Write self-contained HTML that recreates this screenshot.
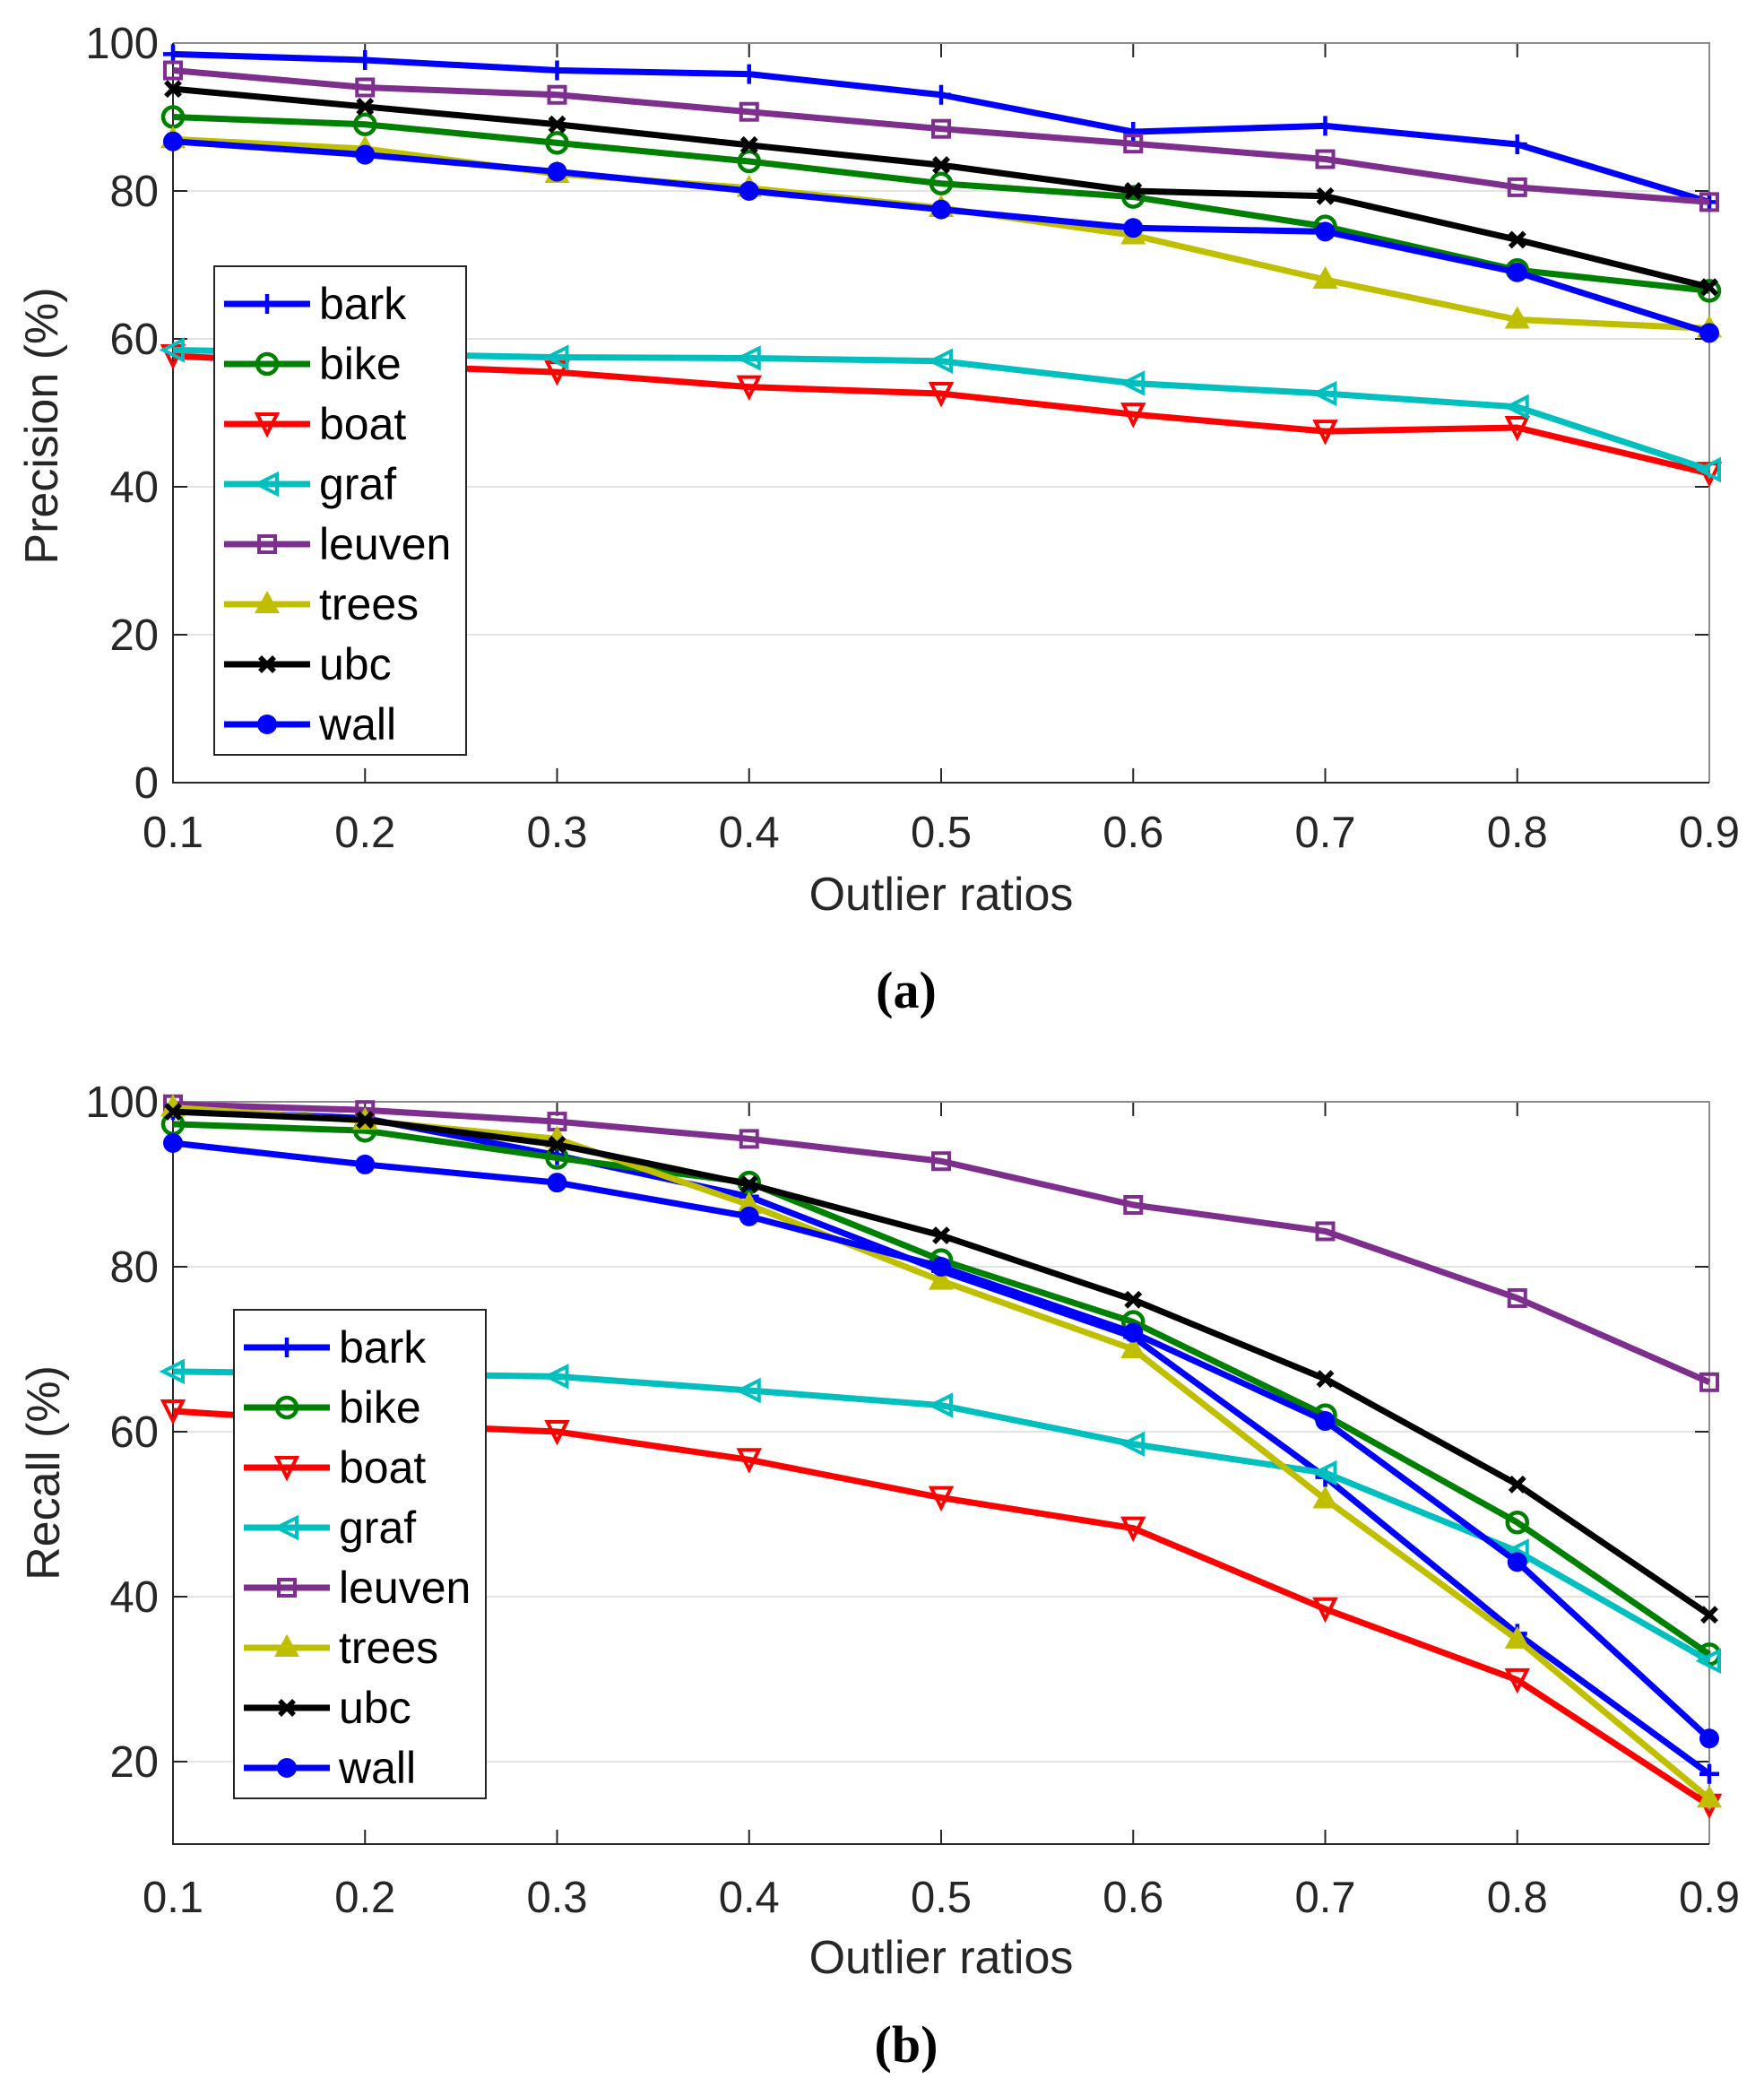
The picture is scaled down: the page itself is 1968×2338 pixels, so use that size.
<!DOCTYPE html>
<html><head><meta charset="utf-8">
<style>
html,body{margin:0;padding:0;background:#fff;}
svg{display:block;font-family:"Liberation Sans",Arial,sans-serif;}
</style></head>
<body>
<svg id="fig" width="1968" height="2338" viewBox="0 0 1968 2338" xmlns="http://www.w3.org/2000/svg"></svg>
<script>
const xCategories = [0.1,0.2,0.3,0.4,0.5,0.6,0.7,0.8,0.9];
const xTickLabels = ["0.1","0.2","0.3","0.4","0.5","0.6","0.7","0.8","0.9"];
const seriesNames = ["bark","bike","boat","graf","leuven","trees","ubc","wall"];
const precisionYTicks = [0,20,40,60,80,100];
const recallYTicks = [20,40,60,80,100];

const precBark   = [98.5,97.7,96.3,95.8,93.0,88.0,88.8,86.3,78.5];
const precBike   = [90.0,89.0,86.5,84.0,81.0,79.2,75.2,69.3,66.5];
const precBoat   = [57.7,56.5,55.5,53.5,52.6,49.8,47.5,48.0,41.8];
const precGraf   = [58.5,58.0,57.5,57.4,57.0,54.0,52.6,50.8,42.3];
const precLeuven = [96.3,94.0,93.0,90.7,88.4,86.4,84.3,80.5,78.5];
const precTrees  = [87.0,85.7,82.3,80.4,77.7,74.0,68.0,62.6,61.4];
const precUbc    = [93.8,91.4,89.0,86.2,83.5,80.0,79.3,73.4,67.0];
const precWall   = [86.7,84.9,82.6,80.0,77.5,75.0,74.5,69.0,60.8];

const recBark   = [99.0,98.0,93.5,88.5,79.5,71.5,54.5,35.5,18.5];
const recBike   = [97.3,96.5,93.2,90.2,80.8,73.3,62.0,49.0,33.0];
const recBoat   = [62.5,61.0,60.0,56.6,52.0,48.3,38.5,29.9,14.7];
const recGraf   = [67.3,67.0,66.7,65.0,63.2,58.5,55.0,45.5,32.2];
const recLeuven = [99.7,99.0,97.6,95.5,92.8,87.5,84.3,76.2,66.0];
const recTrees  = [99.3,97.7,95.5,87.5,78.3,70.0,51.8,34.8,15.5];
const recUbc    = [98.8,97.8,94.8,90.0,83.8,76.0,66.4,53.6,37.8];
const recWall   = [95.0,92.4,90.2,86.1,80.0,72.0,61.3,44.2,22.8];

const colors = ["#0000ff","#008000","#ff0000","#00bfbf","#7e2f8e","#bfbf00","#000000","#0000ff"];
const markers = ["plus","circle","tridown","trileft","square","triup","x","dot"];
const NS="http://www.w3.org/2000/svg";
const svg=document.getElementById('fig');
function mk(tag,attrs,parent){const e=document.createElementNS(NS,tag);for(const k in attrs)e.setAttribute(k,attrs[k]);(parent||svg).appendChild(e);return e;}

function marker(g,type,x,y,c){
  const r=11;let e;
  if(type==="plus"){e=mk('path',{d:`M${x-r} ${y}H${x+r}M${x} ${y-r}V${y+r}`,stroke:c,'stroke-width':4.5,fill:'none'},g);}
  else if(type==="x"){e=mk('path',{d:`M${x-8} ${y-8}L${x+8} ${y+8}M${x-8} ${y+8}L${x+8} ${y-8}`,stroke:c,'stroke-width':5.5,fill:'none'},g);}
  else if(type==="circle"){e=mk('circle',{cx:x,cy:y,r:r,stroke:c,'stroke-width':4.5,fill:'none'},g);}
  else if(type==="dot"){e=mk('circle',{cx:x,cy:y,r:r,fill:c},g);}
  else if(type==="square"){e=mk('rect',{x:x-9,y:y-9,width:18,height:18,stroke:c,'stroke-width':4,fill:'none'},g);}
  else if(type==="tridown"){e=mk('path',{d:`M${x-r} ${y-r}L${x+r} ${y-r}L${x} ${y+r}Z`,stroke:c,'stroke-width':4,fill:'none'},g);}
  else if(type==="trileft"){e=mk('path',{d:`M${x+r} ${y-r}L${x+r} ${y+r}L${x-r} ${y}Z`,stroke:c,'stroke-width':4,fill:'none'},g);}
  else if(type==="triup"){e=mk('path',{d:`M${x-14} ${y+10}L${x+14} ${y+10}L${x} ${y-15}Z`,fill:c},g);}
  
  
}

function chart(cfg){
  const g=mk('g',{});
  
  
  const {L,R,T,B,ymin,ymax}=cfg;
  const xs=v=>L+(v-0.1)/0.8*(R-L);
  const ys=v=>B-(v-ymin)/(ymax-ymin)*(B-T);
  cfg.yTicks.forEach(t=>{
    const y=ys(t);
    if(t!==ymin && t!==ymax){const gl=mk('line',{x1:L,x2:R,y1:y,y2:y,stroke:'#e3e3e3','stroke-width':2},g);}
    const tk=mk('path',{d:`M${L} ${y}h16M${R} ${y}h-16`,stroke:'#262626','stroke-width':2},g);
    
    const tx=mk('text',{x:L-16,y:y+17,'text-anchor':'end','font-size':49,fill:'#262626'},g);tx.textContent=t;
    
  });
  xCategories.forEach((c,i)=>{
    const x=xs(c);
    const tk=mk('path',{d:`M${x} ${B}v-16M${x} ${T}v16`,stroke:'#262626','stroke-width':2},g);
    
    const tx=mk('text',{x:x,y:cfg.xTickY,'text-anchor':'middle','font-size':49,fill:'#262626'},g);tx.textContent=xTickLabels[i];
    
  });
  const fr=mk('path',{d:`M${L} ${T}H${R}V${B}`,stroke:'#8c8c8c','stroke-width':2,fill:'none'},g);
  
  const ax=mk('path',{d:`M${L} ${T}V${B}H${R}`,stroke:'#262626','stroke-width':2,fill:'none'},g);
  
  cfg.series.forEach((d,si)=>{
    const sg=mk('g',{},g);
    
    
    const pts=d.map((v,i)=>xs(xCategories[i])+','+ys(v)).join(' ');
    const pl=mk('polyline',{points:pts,fill:'none',stroke:colors[si],'stroke-width':7,'stroke-linejoin':'round'},sg);
    
    d.forEach((v,i)=>marker(sg,markers[si],xs(xCategories[i]),ys(v),colors[si]));
  });
  const lg=mk('g',{},g);
  
  mk('rect',{x:cfg.lx,y:cfg.ly,width:281,height:545,fill:'#fff',stroke:'#262626','stroke-width':2},lg);
  seriesNames.forEach((n,i)=>{
    const y=cfg.ly+42+i*67;
    const eg=mk('g',{},lg);
    
    mk('line',{x1:cfg.lx+11,x2:cfg.lx+107,y1:y,y2:y,stroke:colors[i],'stroke-width':7},eg);
    marker(eg,markers[i],cfg.lx+59,y,colors[i]);
    const t=mk('text',{x:cfg.lx+117,y:y+17,'font-size':50,fill:'#000'},eg);t.textContent=n;
  });
  const xl=mk('text',{x:(L+R)/2,y:cfg.xLabelY,'text-anchor':'middle','font-size':52,fill:'#262626'},g);xl.textContent='Outlier ratios';
  
  const yl=mk('text',{x:0,y:0,'text-anchor':'middle','font-size':52,fill:'#262626',transform:`translate(${cfg.yLabelX},${cfg.yLabelY}) rotate(-90)`},g);yl.textContent=cfg.yTitle;
  
  const cap=mk('text',{x:1011,y:cfg.capY,'text-anchor':'middle','font-size':58,'font-weight':'bold','font-family':'"Liberation Serif",serif',fill:'#000'},g);cap.textContent=cfg.caption;
  
}

chart({name:'precision-chart',L:193,R:1907,T:48,B:873,ymin:0,ymax:100,yTicks:precisionYTicks,
  series:[precBark,precBike,precBoat,precGraf,precLeuven,precTrees,precUbc,precWall],
  xTickY:945,xLabelY:1015,yLabelX:64,yLabelY:475,yTitle:'Precision (%)',capY:1124,caption:'(a)',lx:239,ly:297});
chart({name:'recall-chart',L:193,R:1907,T:1229,B:2057,ymin:10,ymax:100,yTicks:recallYTicks,
  series:[recBark,recBike,recBoat,recGraf,recLeuven,recTrees,recUbc,recWall],
  xTickY:2133,xLabelY:2201,yLabelX:66,yLabelY:1643,yTitle:'Recall (%)',capY:2300,caption:'(b)',lx:261,ly:1461});
</script>
</body></html>
